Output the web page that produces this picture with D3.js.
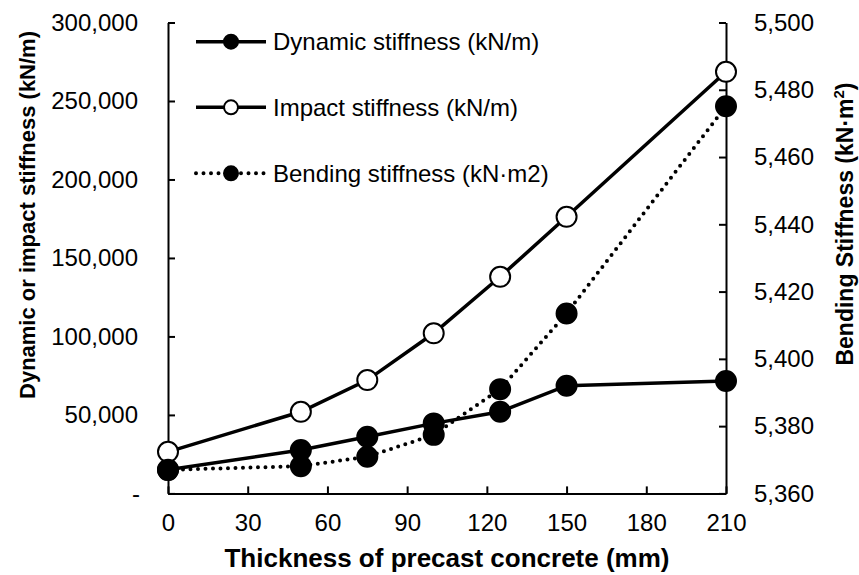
<!DOCTYPE html>
<html>
<head>
<meta charset="utf-8">
<script src="https://cdn.jsdelivr.net/npm/d3@7"></script>
<style>
  body { margin: 0; background: #fff; }
  svg { display: block; font-family: "Liberation Sans", Arial, sans-serif; }
</style>
</head>
<body>
<div id="chart"></div>
<script>
// Chart size
const width = 859;
const height = 575;

// Data
const thickness = [0, 50, 75, 100, 125, 150, 210];
const dynamicStiffness = [15000, 27600, 36100, 44600, 52000, 68600, 71600];
const impactStiffness = [26500, 52000, 72200, 102000, 138000, 176200, 268600];
const bendingStiffness = [5367.0, 5368.1, 5370.9, 5377.4, 5391.0, 5413.5, 5475.1];

const xTicks = [0, 30, 60, 90, 120, 150, 180, 210];
const leftTicks = [0, 50000, 100000, 150000, 200000, 250000, 300000];
const rightTicks = [5360, 5380, 5400, 5420, 5440, 5460, 5480, 5500];

const legendLabels = ["Dynamic stiffness (kN/m)", "Impact stiffness (kN/m)", "Bending stiffness (kN\u00b7m2)"];

const svg = d3.select("#chart")
  .append("svg")
  .attr("width", width)
  .attr("height", height);

// Scales
const x = d3.scaleLinear().domain([0, 210]).range([168, 726]);
const yL = d3.scaleLinear().domain([0, 300000]).range([493.4, 22.5]);
const yR = d3.scaleLinear().domain([5360, 5500]).range([493.4, 22.5]);

const fmt = d3.format(",");

// Axes (ticks point inside the plot)
const xAxis = svg.append("g")
  .attr("transform", `translate(0,${yL(0)})`)
  .call(d3.axisBottom(x).tickValues(xTicks).tickSizeInner(-7).tickSizeOuter(0).tickPadding(22));

const leftAxis = svg.append("g")
  .attr("transform", `translate(${x(0)},0)`)
  .call(d3.axisLeft(yL).tickValues(leftTicks).tickSizeInner(-7).tickSizeOuter(0).tickPadding(30)
    .tickFormat(d => d === 0 ? "-" : fmt(d)));

const rightAxis = svg.append("g")
  .attr("transform", `translate(${x(210)},0)`)
  .call(d3.axisRight(yR).tickValues(rightTicks).tickSizeInner(-7).tickSizeOuter(0).tickPadding(28)
    .tickFormat(fmt));

[xAxis, leftAxis, rightAxis].forEach(g => {
  g.select(".domain").attr("stroke", "#000").attr("stroke-width", 2);
  g.selectAll(".tick line").attr("stroke", "#000").attr("stroke-width", 2);
  g.selectAll(".tick text")
    .attr("fill", "#000")
    .style("font-family", "'Liberation Sans', Arial, sans-serif")
    .style("font-size", "24px");
});
xAxis.selectAll(".tick text").attr("dy", "0.71em").attr("y", 21);
leftAxis.selectAll(".tick text").filter(d => d === 0).attr("x", -28);

// Lines
const lineL = d3.line().x((d, i) => x(thickness[i])).y(d => yL(d));
const lineR = d3.line().x((d, i) => x(thickness[i])).y(d => yR(d));

function drawSeries(values, line, yScale, fill, dotted) {
  const path = svg.append("path")
    .datum(values)
    .attr("fill", "none")
    .attr("stroke", "#000")
    .attr("stroke-width", dotted ? 4 : 3.5)
    .attr("d", line);
  if (dotted) path.attr("stroke-dasharray", "0,7.5").attr("stroke-linecap", "round");
  svg.append("g").selectAll("circle")
    .data(values)
    .enter()
    .append("circle")
    .attr("cx", (d, i) => x(thickness[i]))
    .attr("cy", d => yScale(d))
    .attr("r", 10)
    .attr("fill", fill)
    .attr("stroke", "#000")
    .attr("stroke-width", 2);
}

drawSeries(dynamicStiffness, lineL, yL, "#000", false);
drawSeries(impactStiffness, lineL, yL, "#fff", false);
drawSeries(bendingStiffness, lineR, yR, "#000", true);

// Legend
const legendRows = [41.7, 107.3, 173.3];
const legendFill = ["#000", "#fff", "#000"];
const legend = svg.append("g");
legendLabels.forEach((label, i) => {
  const row = legend.append("g").attr("transform", `translate(0,${legendRows[i]})`);
  const ln = row.append("line")
    .attr("x1", 196).attr("x2", 266)
    .attr("y1", 0).attr("y2", 0)
    .attr("stroke", "#000")
    .attr("stroke-width", i === 2 ? 4 : 3.5);
  if (i === 2) ln.attr("stroke-dasharray", "0,7.5").attr("stroke-linecap", "round");
  row.append("circle")
    .attr("cx", 231).attr("cy", 0).attr("r", 7)
    .attr("fill", legendFill[i])
    .attr("stroke", "#000")
    .attr("stroke-width", 2);
  row.append("text")
    .attr("x", 273).attr("y", 0)
    .attr("dy", "0.35em")
    .attr("font-size", "24px")
    .text(label);
});

// Axis titles
svg.append("text")
  .attr("x", 447)
  .attr("y", 567)
  .attr("text-anchor", "middle")
  .attr("font-size", "26px")
  .attr("font-weight", "bold")
  .text("Thickness of precast concrete (mm)");

svg.append("text")
  .attr("transform", "translate(35,215) rotate(-90)")
  .attr("text-anchor", "middle")
  .attr("font-size", "22px")
  .attr("font-weight", "bold")
  .text("Dynamic or impact stiffness (kN/m)");

const rightTitle = svg.append("text")
  .attr("transform", "translate(853,224) rotate(-90)")
  .attr("text-anchor", "middle")
  .attr("font-size", "23px")
  .attr("font-weight", "bold");
rightTitle.append("tspan").text("Bending Stiffness (kN\u00b7m");
rightTitle.append("tspan").attr("font-size", "15px").attr("dy", "-9").text("2");
rightTitle.append("tspan").attr("dy", "9").text(")");
</script>
</body>
</html>
